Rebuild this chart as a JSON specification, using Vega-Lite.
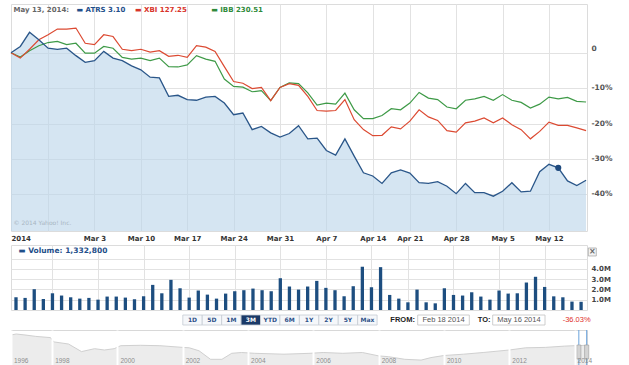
{
  "$schema": "https://vega.github.io/schema/vega-lite/v6.json",
  "padding": {"left": 7, "top": 3, "right": 0, "bottom": 0},
  "background": "white",
  "spacing": 1,
  "datasets": {
    "prices": [
      {"d":"2014-02-18","i":0,"atrs":0,"xbi":0,"ibb":0,"vol":1240000},
      {"d":"2014-02-19","i":1,"atrs":1.8,"xbi":-1.5,"ibb":-1.2,"vol":1180000},
      {"d":"2014-02-20","i":2,"atrs":5.8,"xbi":1.0,"ibb":0.6,"vol":2030000},
      {"d":"2014-02-21","i":3,"atrs":3.7,"xbi":3.7,"ibb":2.0,"vol":1080000},
      {"d":"2014-02-24","i":4,"atrs":1.3,"xbi":5.1,"ibb":2.9,"vol":1630000},
      {"d":"2014-02-25","i":5,"atrs":1.0,"xbi":6.7,"ibb":3.2,"vol":1410000},
      {"d":"2014-02-26","i":6,"atrs":1.3,"xbi":6.7,"ibb":2.3,"vol":1240000},
      {"d":"2014-02-27","i":7,"atrs":-0.8,"xbi":7.0,"ibb":2.7,"vol":1110000},
      {"d":"2014-02-28","i":8,"atrs":-2.7,"xbi":2.7,"ibb":-0.1,"vol":1180000},
      {"d":"2014-03-03","i":9,"atrs":-2.2,"xbi":2.3,"ibb":-0.1,"vol":1010000},
      {"d":"2014-03-04","i":10,"atrs":0.4,"xbi":5.1,"ibb":1.8,"vol":1310000},
      {"d":"2014-03-05","i":11,"atrs":-1.5,"xbi":4.6,"ibb":1.3,"vol":1310000},
      {"d":"2014-03-06","i":12,"atrs":-2.2,"xbi":1.0,"ibb":-1.3,"vol":1210000},
      {"d":"2014-03-07","i":13,"atrs":-3.7,"xbi":0.6,"ibb":-1.8,"vol":1050000},
      {"d":"2014-03-10","i":14,"atrs":-4.8,"xbi":1.0,"ibb":-1.5,"vol":1340000},
      {"d":"2014-03-11","i":15,"atrs":-6.9,"xbi":0.2,"ibb":-2.2,"vol":2450000},
      {"d":"2014-03-12","i":16,"atrs":-7.1,"xbi":0.6,"ibb":-1.5,"vol":1630000},
      {"d":"2014-03-13","i":17,"atrs":-12.3,"xbi":-1.0,"ibb":-3.9,"vol":2940000},
      {"d":"2014-03-14","i":18,"atrs":-12.0,"xbi":-0.7,"ibb":-4.0,"vol":2120000},
      {"d":"2014-03-17","i":19,"atrs":-13.2,"xbi":-1.3,"ibb":-3.4,"vol":1210000},
      {"d":"2014-03-18","i":20,"atrs":-13.4,"xbi":2.0,"ibb":-0.8,"vol":1900000},
      {"d":"2014-03-19","i":21,"atrs":-12.5,"xbi":1.6,"ibb":-1.8,"vol":1500000},
      {"d":"2014-03-20","i":22,"atrs":-12.3,"xbi":0.4,"ibb":-2.4,"vol":1110000},
      {"d":"2014-03-21","i":23,"atrs":-14.2,"xbi":-3.9,"ibb":-7.4,"vol":1600000},
      {"d":"2014-03-24","i":24,"atrs":-17.5,"xbi":-8.1,"ibb":-9.5,"vol":1830000},
      {"d":"2014-03-25","i":25,"atrs":-17.0,"xbi":-8.6,"ibb":-9.7,"vol":1930000},
      {"d":"2014-03-26","i":26,"atrs":-21.7,"xbi":-10.1,"ibb":-11.0,"vol":2090000},
      {"d":"2014-03-27","i":27,"atrs":-20.8,"xbi":-9.8,"ibb":-10.7,"vol":1930000},
      {"d":"2014-03-28","i":28,"atrs":-22.6,"xbi":-13.5,"ibb":-13.5,"vol":1830000},
      {"d":"2014-03-31","i":29,"atrs":-23.8,"xbi":-9.8,"ibb":-9.8,"vol":3100000},
      {"d":"2014-04-01","i":30,"atrs":-22.8,"xbi":-8.7,"ibb":-8.5,"vol":2290000},
      {"d":"2014-04-02","i":31,"atrs":-20.6,"xbi":-9.2,"ibb":-8.7,"vol":1990000},
      {"d":"2014-04-03","i":32,"atrs":-24.3,"xbi":-12.3,"ibb":-11.3,"vol":2290000},
      {"d":"2014-04-04","i":33,"atrs":-24.1,"xbi":-16.3,"ibb":-14.8,"vol":2840000},
      {"d":"2014-04-07","i":34,"atrs":-27.6,"xbi":-16.5,"ibb":-14.2,"vol":2160000},
      {"d":"2014-04-08","i":35,"atrs":-28.9,"xbi":-16.3,"ibb":-14.5,"vol":1930000},
      {"d":"2014-04-09","i":36,"atrs":-24.3,"xbi":-13.2,"ibb":-11.4,"vol":1340000},
      {"d":"2014-04-10","i":37,"atrs":-29.2,"xbi":-18.9,"ibb":-16.1,"vol":2320000},
      {"d":"2014-04-11","i":38,"atrs":-33.9,"xbi":-21.7,"ibb":-18.6,"vol":4220000},
      {"d":"2014-04-14","i":39,"atrs":-34.8,"xbi":-23.4,"ibb":-18.6,"vol":2220000},
      {"d":"2014-04-15","i":40,"atrs":-36.9,"xbi":-23.3,"ibb":-17.7,"vol":4180000},
      {"d":"2014-04-16","i":41,"atrs":-33.9,"xbi":-20.9,"ibb":-15.8,"vol":1470000},
      {"d":"2014-04-17","i":42,"atrs":-33.1,"xbi":-21.5,"ibb":-16.1,"vol":1110000},
      {"d":"2014-04-21","i":43,"atrs":-34.0,"xbi":-19.3,"ibb":-14.2,"vol":750000},
      {"d":"2014-04-22","i":44,"atrs":-36.7,"xbi":-16.1,"ibb":-11.2,"vol":1990000},
      {"d":"2014-04-23","i":45,"atrs":-36.9,"xbi":-18.1,"ibb":-12.8,"vol":750000},
      {"d":"2014-04-24","i":46,"atrs":-36.4,"xbi":-19.1,"ibb":-13.2,"vol":650000},
      {"d":"2014-04-25","i":47,"atrs":-37.7,"xbi":-22.0,"ibb":-15.3,"vol":2120000},
      {"d":"2014-04-28","i":48,"atrs":-39.8,"xbi":-22.4,"ibb":-15.8,"vol":1470000},
      {"d":"2014-04-29","i":49,"atrs":-36.9,"xbi":-19.8,"ibb":-13.4,"vol":1410000},
      {"d":"2014-04-30","i":50,"atrs":-39.5,"xbi":-19.3,"ibb":-13.0,"vol":1730000},
      {"d":"2014-05-01","i":51,"atrs":-39.5,"xbi":-18.4,"ibb":-12.3,"vol":1310000},
      {"d":"2014-05-02","i":52,"atrs":-40.5,"xbi":-19.8,"ibb":-13.4,"vol":1010000},
      {"d":"2014-05-05","i":53,"atrs":-39.1,"xbi":-18.4,"ibb":-11.8,"vol":1900000},
      {"d":"2014-05-06","i":54,"atrs":-36.7,"xbi":-20.3,"ibb":-13.4,"vol":1600000},
      {"d":"2014-05-07","i":55,"atrs":-39.3,"xbi":-21.7,"ibb":-14.0,"vol":1630000},
      {"d":"2014-05-08","i":56,"atrs":-39.1,"xbi":-24.3,"ibb":-15.6,"vol":2680000},
      {"d":"2014-05-09","i":57,"atrs":-33.6,"xbi":-22.2,"ibb":-14.5,"vol":3240000},
      {"d":"2014-05-12","i":58,"atrs":-31.5,"xbi":-19.6,"ibb":-12.5,"vol":2250000},
      {"d":"2014-05-13","i":59,"atrs":-32.5,"xbi":-20.5,"ibb":-13.0,"vol":1332800},
      {"d":"2014-05-14","i":60,"atrs":-36.2,"xbi":-20.5,"ibb":-12.6,"vol":1240000},
      {"d":"2014-05-15","i":61,"atrs":-37.5,"xbi":-21.2,"ibb":-13.7,"vol":820000},
      {"d":"2014-05-16","i":62,"atrs":-36.0,"xbi":-22.0,"ibb":-13.9,"vol":800000}
    ],
    "hover": [
      {"date":"May 13, 2014:","atrs":"▬ ATRS 3.10","xbi":"▬ XBI 127.25","ibb":"▬ IBB 230.51","volume":"▬ Volume: 1,332,800","copy":"© 2014 Yahoo! Inc.","from":"Feb 18 2014","to":"May 16 2014","pct":"-36.03%"}
    ],
    "buttons": [
      {"b":"1D","sel":0},{"b":"5D","sel":0},{"b":"1M","sel":0},{"b":"3M","sel":1},{"b":"YTD","sel":0},
      {"b":"6M","sel":0},{"b":"1Y","sel":0},{"b":"2Y","sel":0},{"b":"5Y","sel":0},{"b":"Max","sel":0}
    ],
    "nav": [
      {"yr":1996.74,"h":31},{"yr":1996.9,"h":32},{"yr":1997.2,"h":30.9},{"yr":1997.5,"h":29.6},{"yr":1997.95,"h":28.4},
      {"yr":1998.05,"h":24.1},{"yr":1998.5,"h":22},{"yr":1998.9,"h":14.4},{"yr":1999.3,"h":17.3},{"yr":1999.6,"h":16},
      {"yr":1999.9,"h":17.3},{"yr":2000.1,"h":20.3},{"yr":2000.7,"h":20.7},{"yr":2001.3,"h":20.3},{"yr":2002.0,"h":18.6},
      {"yr":2002.2,"h":18.2},{"yr":2002.5,"h":15.2},{"yr":2002.85,"h":6.7},{"yr":2003.2,"h":6.7},{"yr":2003.5,"h":12.7},
      {"yr":2003.8,"h":13.5},{"yr":2004.2,"h":12.7},{"yr":2005.1,"h":11.8},{"yr":2005.9,"h":12.7},{"yr":2006.3,"h":13.5},
      {"yr":2006.9,"h":12.7},{"yr":2007.5,"h":13.5},{"yr":2008.0,"h":10.1},{"yr":2008.3,"h":9.3},{"yr":2008.8,"h":6.7},
      {"yr":2009.3,"h":5.9},{"yr":2009.6,"h":8.4},{"yr":2010.0,"h":10.5},{"yr":2010.6,"h":11.8},{"yr":2011.2,"h":13.5},
      {"yr":2012.0,"h":16},{"yr":2012.5,"h":18.2},{"yr":2013.1,"h":18.6},{"yr":2013.7,"h":19.9},{"yr":2014.0,"h":20.3},
      {"yr":2014.38,"h":20.7}
    ],
    "navsel": [{"yr":2014.13},{"yr":2014.37}]
  },
  "vconcat": [
    {
      "width": 576, "height": 227,
      "data": {"name": "prices"},
      "layer": [
        {
          "mark": {"type": "area", "color": "#bcd5ea", "opacity": 0.62},
          "encoding": {
            "x": {"field": "i", "type": "quantitative", "scale": {"domain": [0, 62.1], "nice": false, "zero": false},
              "axis": {"title": null, "values": [0,4,9,14,19,24,29,34,39,43,48,53,58],
                "labelExpr": "datum.value == 0 ? '2014' : datum.value == 9 ? 'Mar 3' : datum.value == 14 ? 'Mar 10' : datum.value == 19 ? 'Mar 17' : datum.value == 24 ? 'Mar 24' : datum.value == 29 ? 'Mar 31' : datum.value == 34 ? 'Apr 7' : datum.value == 39 ? 'Apr 14' : datum.value == 43 ? 'Apr 21' : datum.value == 48 ? 'Apr 28' : datum.value == 53 ? 'May 5' : datum.value == 58 ? 'May 12' : ''",
                "labelPadding": 3.5, "labelFlush": false, "labelBound": false,
                "labelAlign": {"condition": {"test": "datum.value == 0", "value": "left"}, "value": "center"},
                "gridColor": {"condition": {"test": "datum.value == 0", "value": "transparent"}, "value": "#e2e2e2"}}},
            "y": {"field": "atrs", "type": "quantitative", "scale": {"domain": [-50.34, 13.79], "nice": false, "zero": false},
              "axis": {"title": null, "orient": "right", "values": [0,-10,-20,-30,-40],
                "labelExpr": "datum.value == 0 ? '0' : datum.value + '%'",
                "labelPadding": 4, "labelFontSize": 7.5, "labelColor": "#555555", "labelAlign": "left", "labelBaseline": "middle",
                "labelOffset": {"condition": {"test": "datum.value == 0", "value": -4}, "value": -0.5}}},
            "y2": {"datum": -50.34}
          }
        },
        {"mark": {"type": "line", "color": "#3e9a47", "strokeWidth": 1.2},
         "encoding": {"x": {"field": "i", "type": "quantitative"}, "y": {"field": "ibb", "type": "quantitative"}}},
        {"mark": {"type": "line", "color": "#dc4a32", "strokeWidth": 1.2},
         "encoding": {"x": {"field": "i", "type": "quantitative"}, "y": {"field": "xbi", "type": "quantitative"}}},
        {"mark": {"type": "line", "color": "#2a5689", "strokeWidth": 1.3},
         "encoding": {"x": {"field": "i", "type": "quantitative"}, "y": {"field": "atrs", "type": "quantitative"}}},
        {"transform": [{"filter": "datum.i == 59"}],
         "mark": {"type": "point", "filled": true, "size": 38, "color": "#1f4a7e", "opacity": 1},
         "encoding": {"x": {"field": "i", "type": "quantitative"}, "y": {"field": "atrs", "type": "quantitative"}}},
        {"data": {"name": "hover"},
         "mark": {"type": "text", "align": "left", "baseline": "middle", "fontWeight": "bold", "fontSize": 7, "color": "#666666"},
         "encoding": {"x": {"datum": 0.27, "type": "quantitative"}, "y": {"datum": 12.23, "type": "quantitative"}, "text": {"field": "date"}}},
        {"data": {"name": "hover"},
         "mark": {"type": "text", "align": "left", "baseline": "middle", "fontWeight": "bold", "fontSize": 7, "color": "#1f4f8a"},
         "encoding": {"x": {"datum": 7.06, "type": "quantitative"}, "y": {"datum": 12.23, "type": "quantitative"}, "text": {"field": "atrs"}}},
        {"data": {"name": "hover"},
         "mark": {"type": "text", "align": "left", "baseline": "middle", "fontWeight": "bold", "fontSize": 7, "color": "#d8342a"},
         "encoding": {"x": {"datum": 13.37, "type": "quantitative"}, "y": {"datum": 12.23, "type": "quantitative"}, "text": {"field": "xbi"}}},
        {"data": {"name": "hover"},
         "mark": {"type": "text", "align": "left", "baseline": "middle", "fontWeight": "bold", "fontSize": 7, "color": "#2f8a3a"},
         "encoding": {"x": {"datum": 21.58, "type": "quantitative"}, "y": {"datum": 12.23, "type": "quantitative"}, "text": {"field": "ibb"}}},
        {"data": {"name": "hover"},
         "mark": {"type": "text", "align": "left", "baseline": "middle", "fontSize": 6, "color": "#a9b6c2"},
         "encoding": {"x": {"datum": 0.27, "type": "quantitative"}, "y": {"datum": -48.2, "type": "quantitative"}, "text": {"field": "copy"}}}
      ]
    },
    {
      "width": 576, "height": 65,
      "resolve": {"scale": {"y": "independent"}, "axis": {"y": "independent"}},
      "layer": [
        {"data": {"name": "prices"},
         "mark": {"type": "bar", "width": 3.3, "clip": true, "color": "#1d4e80"},
         "encoding": {
           "x": {"field": "i", "type": "quantitative", "scale": {"domain": [0, 62.1], "nice": false, "zero": false},
             "axis": {"title": null, "values": [4,9,14,19,24,29,34,39,43,48,53,58], "labels": false, "grid": true}},
           "y": {"field": "vol", "type": "quantitative", "scale": {"domain": [0, 6340000], "nice": false},
             "axis": {"title": null, "orient": "right", "tickCount": 6,
               "labelExpr": "(datum.value < 500000 || datum.value > 4500000) ? '' : format(datum.value / 1000000, '.1f') + 'M'",
               "gridColor": {"condition": {"test": "datum.value < 500000 || datum.value > 5500000", "value": "transparent"}, "value": "#e2e2e2"},
               "labelBaseline": {"condition": {"test": "datum.value < 500000", "value": "bottom"}, "value": "middle"},
               "labelOverlap": false, "labelBound": false, "grid": true,
               "labelPadding": 4, "labelColor": "#444444", "labelAlign": "left"}}
         }},
        {"data": {"name": "hover"},
         "layer": [
           {"mark": {"type": "text", "align": "left", "baseline": "middle", "fontWeight": "bold", "fontSize": 7.5, "color": "#1f4f8a"},
            "encoding": {"x": {"datum": 0.27, "type": "quantitative"}, "y": {"datum": 5760000, "type": "quantitative", "scale": {"domain": [0, 6340000], "nice": false}, "axis": null}, "text": {"field": "volume"}}},
           {"mark": {"type": "point", "shape": "square", "size": 64, "filled": true, "color": "#f3f3f3", "stroke": "#a8a8a8", "strokeWidth": 0.8, "opacity": 1},
            "encoding": {"x": {"datum": 63.23, "type": "quantitative"}, "y": {"datum": 5660000, "type": "quantitative"}}},
           {"mark": {"type": "text", "text": "×", "fontSize": 8, "fontWeight": "bold", "color": "#666666"},
            "encoding": {"x": {"datum": 63.23, "type": "quantitative"}, "y": {"datum": 5660000, "type": "quantitative"}}}
         ]}
      ]
    },
    {
      "width": 576, "height": 16,
      "view": {"stroke": null},
      "resolve": {"scale": {"x": "independent"}},
      "layer": [
        {"data": {"name": "buttons"},
         "mark": {"type": "rect", "stroke": "#c5cbd3", "strokeWidth": 0.8},
         "encoding": {
           "x": {"field": "b", "type": "nominal", "sort": null, "scale": {"type": "band", "range": [171.8, 366.1], "paddingInner": 0, "paddingOuter": 0}, "axis": null},
           "y": {"datum": 3, "type": "quantitative", "scale": {"domain": [0, 16], "reverse": true, "nice": false}, "axis": null},
           "y2": {"datum": 13},
           "fill": {"condition": {"test": "datum.sel == 1", "value": "#1b3a68"}, "value": "#f5f7fa"}
         }},
        {"data": {"name": "buttons"},
         "mark": {"type": "text", "fontWeight": "bold", "fontSize": 6, "baseline": "middle"},
         "encoding": {
           "x": {"field": "b", "type": "nominal", "sort": null, "scale": {"type": "band", "range": [171.8, 366.1], "paddingInner": 0, "paddingOuter": 0}, "axis": null},
           "y": {"datum": 8, "type": "quantitative"},
           "text": {"field": "b"},
           "color": {"condition": {"test": "datum.sel == 1", "value": "#ffffff"}, "value": "#2d5189"}
         }},
        {"data": {"name": "hover"},
         "layer": [
           {"mark": {"type": "text", "text": "FROM:", "align": "left", "baseline": "middle", "font": "Liberation Sans", "fontWeight": "bold", "fontSize": 7.5, "color": "#222222"},
            "encoding": {"x": {"datum": 379.3, "type": "quantitative", "scale": {"domain": [0, 576], "nice": false, "zero": false}, "axis": null}, "y": {"datum": 8, "type": "quantitative"}}},
           {"mark": {"type": "rect", "fill": "#ffffff", "stroke": "#c2c2c2", "strokeWidth": 0.8},
            "encoding": {"x": {"datum": 406.7, "type": "quantitative"}, "x2": {"datum": 458.3}, "y": {"datum": 3, "type": "quantitative"}, "y2": {"datum": 13}}},
           {"mark": {"type": "text", "baseline": "middle", "font": "Liberation Sans", "fontSize": 7.5, "color": "#555555"},
            "encoding": {"x": {"datum": 432.5, "type": "quantitative"}, "y": {"datum": 8, "type": "quantitative"}, "text": {"field": "from"}}},
           {"mark": {"type": "text", "text": "TO:", "align": "left", "baseline": "middle", "font": "Liberation Sans", "fontWeight": "bold", "fontSize": 7.5, "color": "#222222"},
            "encoding": {"x": {"datum": 466.7, "type": "quantitative"}, "y": {"datum": 8, "type": "quantitative"}}},
           {"mark": {"type": "rect", "fill": "#ffffff", "stroke": "#c2c2c2", "strokeWidth": 0.8},
            "encoding": {"x": {"datum": 481.7, "type": "quantitative"}, "x2": {"datum": 534}, "y": {"datum": 3, "type": "quantitative"}, "y2": {"datum": 13}}},
           {"mark": {"type": "text", "baseline": "middle", "font": "Liberation Sans", "fontSize": 7.5, "color": "#555555"},
            "encoding": {"x": {"datum": 507.9, "type": "quantitative"}, "y": {"datum": 8, "type": "quantitative"}, "text": {"field": "to"}}},
           {"mark": {"type": "text", "align": "left", "baseline": "middle", "font": "Liberation Sans", "fontSize": 7.5, "color": "#e0302a"},
            "encoding": {"x": {"datum": 551.7, "type": "quantitative"}, "y": {"datum": 8, "type": "quantitative"}, "text": {"field": "pct"}}}
         ]}
      ]
    },
    {
      "width": 576, "height": 36,
      "view": {"stroke": "#d8d8d8"},
      "layer": [
        {"data": {"name": "nav"},
         "mark": {"type": "area", "color": "#e4e4e4", "line": {"color": "#d0d0d0", "strokeWidth": 1}},
         "encoding": {
           "x": {"field": "yr", "type": "quantitative", "scale": {"domain": [1996.74, 2014.38], "nice": false, "zero": false},
             "axis": {"title": null, "values": [1996.74,1998,2000,2002,2004,2006,2008,2010,2012,2014],
               "labelExpr": "'' + floor(datum.value)", "labelAlign": "left", "labelOffset": 2.5, "labelPadding": 1, "offset": -10,
               "labelFont": "Liberation Sans", "labelFontWeight": "normal", "labelFontSize": 6.5, "labelColor": "#8c8c8c",
               "gridColor": "#ffffff", "gridWidth": 2, "zindex": 1, "labelFlush": false, "labelBound": false}},
           "y": {"field": "h", "type": "quantitative", "scale": {"domain": [0, 36], "nice": false}, "axis": null}
         }},
        {"data": {"name": "navsel"},
         "mark": {"type": "rule", "color": "#6aa3dc", "strokeWidth": 1},
         "encoding": {"x": {"field": "yr", "type": "quantitative"}, "y": {"datum": 0, "type": "quantitative"}, "y2": {"datum": 36}}},
        {"data": {"name": "navsel"},
         "mark": {"type": "point", "shape": "M-0.3,-1H0.3V1H-0.3Z", "size": 196, "filled": true, "color": "#d4d4d4", "stroke": "#9a9a9a", "strokeWidth": 0.6, "opacity": 1},
         "encoding": {"x": {"field": "yr", "type": "quantitative"}, "y": {"datum": 14, "type": "quantitative"}}}
      ]
    }
  ],
  "config": {
    "font": "DejaVu Sans",
    "view": {"stroke": "#dcdcdc", "strokeWidth": 1},
    "axis": {"domain": false, "ticks": false, "labelFont": "DejaVu Sans", "labelFontWeight": "bold", "labelFontSize": 7, "labelColor": "#333333", "gridColor": "#e2e2e2", "labelOverlap": false}
  }
}
